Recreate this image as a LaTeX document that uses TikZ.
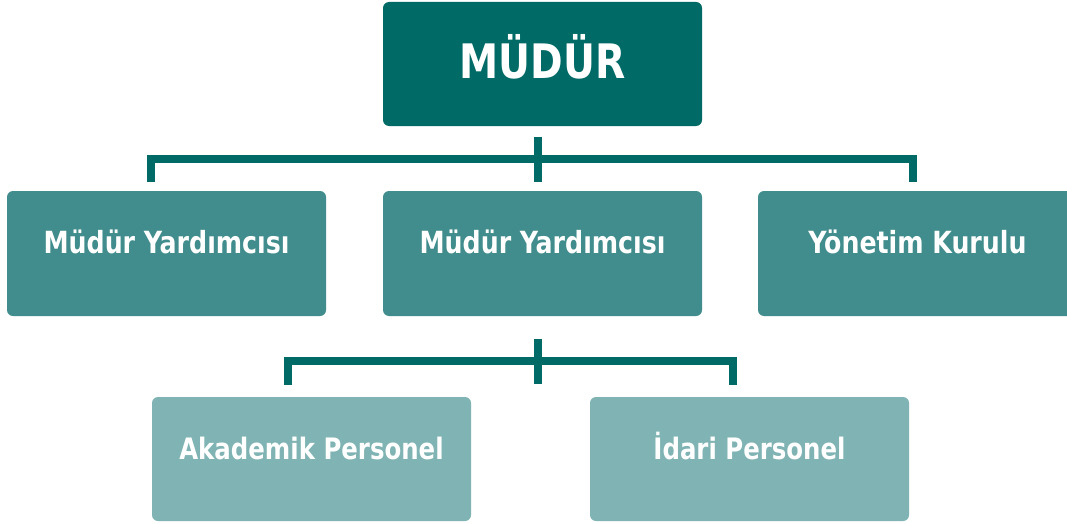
\documentclass[tikz,border=0pt]{standalone}
\usepackage{fontspec}
\setmainfont{DejaVu Sans Condensed}[FakeStretch=0.92]
\definecolor{tealdark}{HTML}{006A66}
\definecolor{tealmid}{HTML}{418C8C}
\definecolor{teallight}{HTML}{80B3B3}
\begin{document}
\begin{tikzpicture}[x=1pt,y=-1pt,
  box/.style={rectangle,rounded corners=6pt,minimum width=319pt,minimum height=125pt,inner sep=0pt,text=white},
  topbox/.style={box,fill=tealdark,minimum height=124pt,font=\bfseries\fontsize{47.5}{52}\selectfont,text height=35pt,text depth=6.4pt},
  midbox/.style={box,fill=tealmid,font=\bfseries\fontsize{30.5}{34}\selectfont,text height=20pt,text depth=19.8pt},
  lowbox/.style={box,fill=teallight,minimum height=124pt,font=\bfseries\fontsize{29.5}{33}\selectfont,text height=20pt,text depth=19.5pt},
  bracket/.style={draw=tealdark,line width=8pt,miter limit=10}]
\useasboundingbox (0,0) rectangle (1067,524);
\fill[white] (0,0) rectangle (1067,524);
\node[topbox] (mudur) at (542.5,64) {MÜDÜR};
\node[midbox] (yard1) at (166.5,253.5) {Müdür Yardımcısı};
\node[midbox] (yard2) at (542.5,253.5) {Müdür Yardımcısı};
\node[midbox] (kurul) at (917.5,253.5) {Yönetim Kurulu};
\node[lowbox] (akad) at (311.5,459) {Akademik Personel};
\node[lowbox] (idari) at (749.5,459) {İdari Personel};
% first bracket
\coordinate (s1) at (538,137);
\coordinate (b1) at (538,182);
\coordinate (l1) at (151,182);
\coordinate (r1) at (913,182);
\draw[bracket] (s1) -- (b1);
\draw[bracket] (l1) -- (l1 |- 0,159) -- (r1 |- 0,159) -- (r1);
% second bracket
\coordinate (s2) at (538,339);
\coordinate (b2) at (538,384);
\coordinate (l2) at (288,385);
\coordinate (r2) at (733,385);
\draw[bracket] (s2) -- (b2);
\draw[bracket] (l2) -- (l2 |- 0,361) -- (r2 |- 0,361) -- (r2);
\end{tikzpicture}
\end{document}
